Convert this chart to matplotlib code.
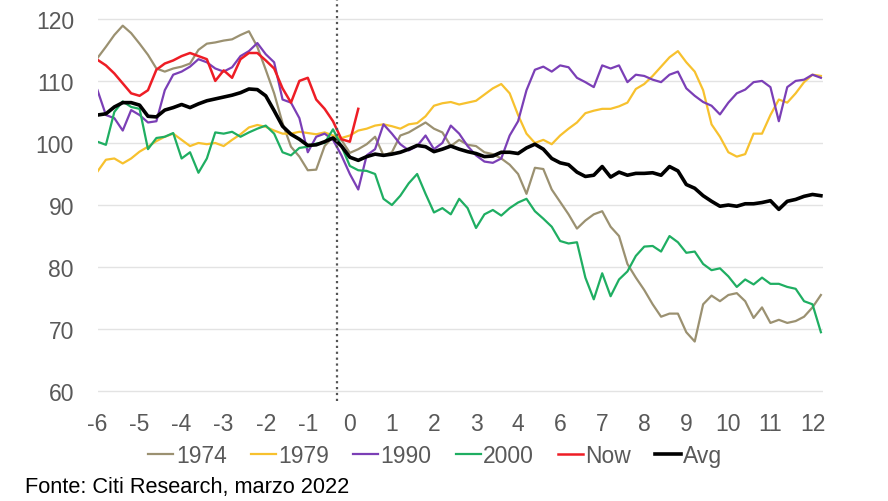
import numpy as np
import matplotlib
matplotlib.use("Agg")
import matplotlib.pyplot as plt

# weekly-ish samples, 0.2 of a tick step apart (tick i sits at x = i)
step = 0.2
tick_labels = ['-6', '-5', '-4', '-3', '-2', '-1', '0', '1', '2', '3', '4',
               '6', '7', '8', '9', '10', '11', '12']
event_pos = 5.7   # dotted "today" marker

y1974 = [113.7, 115.5, 117.4, 118.9, 117.7, 116.0, 114.2, 112.0, 111.5, 112.0,
         112.3, 112.8, 115.0, 116.0, 116.2, 116.5, 116.7, 117.4, 118.0, 115.5,
         111.8, 108.0, 103.2, 99.4, 97.8, 95.6, 95.7, 99.5, 101.0, 100.5,
         98.4, 99.0, 99.8, 101.0, 98.0, 98.5, 101.2, 101.7, 102.5, 103.3,
         102.3, 101.7, 99.5, 100.5, 99.7, 99.5, 98.5, 98.2, 97.5, 96.5,
         95.0, 91.8, 96.0, 95.8, 92.5, 90.5, 88.5, 86.2, 87.5, 88.5,
         89.0, 86.5, 85.0, 80.5, 78.3, 76.3, 74.0, 72.0, 72.5, 72.5,
         69.5, 68.0, 74.0, 75.4, 74.5, 75.5, 75.8, 74.5, 71.8, 73.5,
         71.0, 71.5, 71.0, 71.3, 72.0, 73.5, 75.5]
y1979 = [95.4, 97.3, 97.5, 96.7, 97.5, 98.6, 99.4, 100.3, 101.0, 101.5,
         100.5, 99.5, 100.0, 99.8, 100.0, 99.5, 100.5, 101.4, 102.5, 102.9,
         102.6, 102.0, 101.5, 101.5, 101.8, 101.6, 101.4, 101.7, 101.2, 100.8,
         101.2, 102.0, 102.3, 102.8, 103.0, 102.7, 102.3, 103.0, 103.2, 104.3,
         106.0, 106.4, 106.6, 106.2, 106.5, 106.8, 107.8, 108.8, 109.5, 108.0,
         104.5, 101.5, 100.0, 100.5, 99.8, 101.2, 102.3, 103.3, 104.8, 105.2,
         105.5, 105.5, 105.9, 106.5, 108.7, 109.5, 110.8, 112.3, 113.8, 114.8,
         113.0, 111.5, 108.5, 103.0, 101.0, 98.5, 97.8, 98.2, 101.5, 101.5,
         104.5, 107.0, 106.5, 108.0, 109.8, 111.0, 110.8]
y1990 = [108.5, 104.5, 104.0, 102.0, 105.3, 104.5, 103.3, 103.5, 108.5, 111.0,
         111.5, 112.3, 113.5, 113.0, 112.0, 111.5, 112.2, 114.0, 114.8, 116.1,
         114.3, 113.0, 107.0, 106.5, 104.0, 98.5, 101.0, 101.5, 100.5, 98.0,
         95.0, 92.5, 98.0, 99.0, 103.0, 101.5, 99.8, 98.8, 99.5, 101.2,
         99.0, 100.0, 102.8, 101.5, 99.5, 98.0, 97.0, 96.8, 97.5, 101.2,
         103.5, 108.5, 111.8, 112.3, 111.5, 112.5, 112.2, 110.5, 109.8, 109.0,
         112.5, 112.0, 112.5, 109.8, 111.0, 110.8, 110.2, 109.8, 111.0, 111.5,
         108.8, 107.6, 106.6, 106.0, 104.6, 106.5, 108.0, 108.6, 109.8, 110.0,
         109.0, 103.5, 109.0, 110.0, 110.2, 111.0, 110.5]
y2000 = [100.2, 99.7, 105.0, 106.7, 105.8, 105.5, 99.0, 100.8, 101.0, 101.6,
         97.5, 98.5, 95.2, 97.5, 101.7, 101.5, 101.8, 101.0, 101.7, 102.3,
         102.8, 101.5, 98.5, 98.0, 99.2, 99.4, 99.9, 100.0, 102.2, 99.5,
         96.3, 95.6, 95.5, 95.0, 91.0, 90.0, 91.5, 93.5, 95.0, 91.8,
         88.8, 89.5, 88.5, 91.0, 89.5, 86.3, 88.5, 89.2, 88.3, 89.5,
         90.4, 91.0, 89.0, 87.8, 86.5, 84.2, 83.8, 84.0, 78.3, 74.8,
         79.0, 75.3, 78.0, 79.3, 81.8, 83.3, 83.4, 82.5, 85.0, 84.0,
         82.3, 82.5, 80.5, 79.5, 79.8, 78.5, 76.8, 78.0, 77.2, 78.3,
         77.3, 77.3, 76.8, 76.5, 74.5, 74.0, 69.5]
y_now = [113.4, 112.5, 111.2, 109.6, 108.0, 107.6, 108.5, 111.8, 112.8, 113.3,
         114.0, 114.5, 114.0, 113.5, 110.0, 111.7, 110.5, 113.5, 114.5, 114.5,
         113.3, 112.0, 108.8, 106.5, 110.0, 110.5, 107.0, 105.5, 103.5, 100.6,
         100.2, 105.5]
y_avg = [104.5, 104.7, 105.8, 106.5, 106.5, 106.1, 104.3, 104.2, 105.3, 105.7,
         106.2, 105.7, 106.3, 106.8, 107.1, 107.4, 107.7, 108.1, 108.7, 108.6,
         107.6, 105.2, 102.7, 101.4, 100.6, 99.6, 99.7, 100.2, 100.8, 99.5,
         97.7, 97.2, 97.8, 98.2, 98.0, 98.2, 98.5, 99.0, 99.6, 99.4,
         98.6, 99.0, 99.5, 99.0, 98.6, 98.3, 97.8, 97.9, 98.5, 98.5,
         98.3, 99.2, 99.8, 99.0, 97.5, 96.8, 96.5, 95.3, 94.6, 94.8,
         96.2, 94.5, 95.3, 94.8, 95.1, 95.1, 95.2, 94.8, 96.2, 95.5,
         93.3, 92.7, 91.5, 90.6, 89.8, 90.0, 89.8, 90.2, 90.2, 90.4,
         90.7, 89.3, 90.6, 90.9, 91.4, 91.7, 91.5]

plt.rcParams['font.family'] = ['Liberation Sans', 'DejaVu Sans']

fig = plt.figure(figsize=(8.88, 5.02), dpi=100)
ax = fig.add_axes([0.1098, 0.199, 0.817, 0.801])

t = np.arange(len(y_avg)) * step
ax.plot(t, y1974, color='#9b9171', lw=1.6, label='1974')
ax.plot(t, y1979, color='#f7c12e', lw=1.6, label='1979')
ax.plot(t, y1990, color='#7b3fb6', lw=1.6, label='1990')
ax.plot(t, y2000, color='#1fae62', lw=1.6, label='2000')
ax.plot(t[:len(y_now)], y_now, color='#ee1d25', lw=1.8, label='Now')
ax.plot(t, y_avg, color='black', lw=2.6, label='Avg')

ax.axvline(event_pos, color='#555555', ls=':', lw=1.6)

ax.set_xlim(0, 17.25)
ax.set_ylim(58.4, 123.2)
ax.set_yticks(range(60, 121, 10))
ax.set_xticks(range(len(tick_labels)))
ax.set_xticklabels(tick_labels)
ax.grid(axis='y', color='#e3e3e3', lw=1)
ax.set_axisbelow(True)
for s in ax.spines.values():
    s.set_visible(False)
ax.tick_params(axis='y', length=0, pad=17, labelsize=16.5, labelcolor='#595959')
ax.tick_params(axis='x', length=0, pad=8, labelsize=16.5, labelcolor='#595959')

leg = fig.legend(loc='center', bbox_to_anchor=(0.49, 0.09), ncol=6, frameon=False,
                 fontsize=16.5, handlelength=1.1, handletextpad=0.1, columnspacing=1.05)
for txt in leg.get_texts():
    txt.set_color('#595959')

fig.text(0.028, 0.018, 'Fonte: Citi Research, marzo 2022', fontsize=15.7, color='black',
         va='baseline')

fig.savefig('out.png', dpi=100)
